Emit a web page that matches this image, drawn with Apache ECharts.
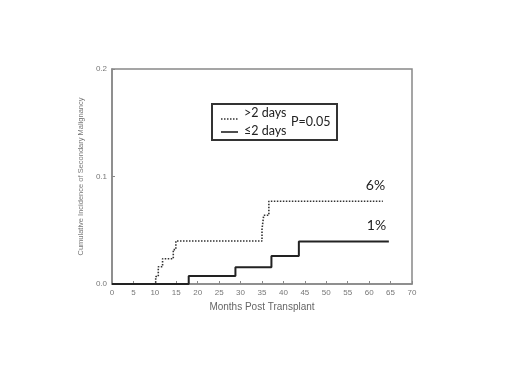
<!DOCTYPE html>
<html>
<head>
<meta charset="utf-8">
<script src="https://cdn.jsdelivr.net/npm/echarts@6/dist/echarts.min.js"></script>
<style>
  html, body { margin: 0; padding: 0; background: #fff; }
  #chart { width: 520px; height: 390px; }
</style>
</head>
<body>
<div id="chart"></div>
<script>
// cumulative incidence, step curves
const longMonths = [0, 10.2, 10.8, 11.8, 14.3, 14.9, 35.0, 35.4, 36.6, 63.2]
const longInc = [0, 0.007, 0.016, 0.0235, 0.032, 0.040, 0.051, 0.064, 0.077, 0.077]
const shortMonths = [0, 17.9, 28.8, 37.2, 43.6, 64.6]
const shortInc = [0, 0.0075, 0.0155, 0.026, 0.0395, 0.0395]
const seriesNames = ['>2 days', '≤2 days']
const endLabels = ['6%', '1%']
const pText = 'P=0.05'

const chart = echarts.init(document.getElementById('chart'))

const toPairs = (xs, ys) => xs.map((x, i) => [x, ys[i]])

const axisText = { color: '#777', fontSize: 8, fontFamily: 'Liberation Sans' }
const legendFont = '12.5px Lato'

chart.setOption({
  backgroundColor: '#fff',
  animation: false,
  grid: {
    left: 112, top: 69, right: 108, bottom: 106,
    show: true, borderColor: '#888', borderWidth: 1.5
  },
  xAxis: {
    type: 'value', min: 0, max: 70, interval: 5,
    name: 'Months Post Transplant', nameLocation: 'middle', nameGap: 15,
    nameTextStyle: { color: '#666', fontSize: 10, fontFamily: 'Liberation Sans' },
    axisLine: { show: true, lineStyle: { color: '#888', width: 1.5 } },
    axisTick: { show: true, inside: true, length: 3, lineStyle: { color: '#888' } },
    axisLabel: { ...axisText, margin: 5 },
    splitLine: { show: false }
  },
  yAxis: {
    type: 'value', min: 0, max: 0.2, interval: 0.1,
    name: 'Cumulative Incidence of Secondary Malignancy', nameLocation: 'middle', nameGap: 19,
    nameTextStyle: { color: '#777', fontSize: 7.5, fontFamily: 'Liberation Sans' },
    axisLine: { show: true, lineStyle: { color: '#888', width: 1.5 } },
    axisTick: { show: true, inside: true, length: 3, lineStyle: { color: '#888' } },
    axisLabel: { ...axisText, margin: 5, formatter: v => v.toFixed(1) },
    splitLine: { show: false }
  },
  graphic: [
    {
      type: 'rect', shape: { x: 212, y: 104, width: 125, height: 36 },
      style: { fill: '#fff', stroke: '#333', lineWidth: 2 }
    },
    {
      type: 'line', shape: { x1: 221, y1: 119, x2: 238, y2: 119 },
      style: { stroke: '#333', lineWidth: 1.5, lineDash: [1.5, 1.5] }
    },
    {
      type: 'text', x: 244, y: 113,
      style: { text: seriesNames[0], fill: '#222', font: legendFont, verticalAlign: 'middle' }
    },
    {
      type: 'line', shape: { x1: 221, y1: 132, x2: 238, y2: 132 },
      style: { stroke: '#222', lineWidth: 1.6 }
    },
    {
      type: 'text', x: 244, y: 131,
      style: { text: seriesNames[1], fill: '#222', font: legendFont, verticalAlign: 'middle' }
    },
    {
      type: 'text', x: 291, y: 122,
      style: { text: pText, fill: '#222', font: legendFont, verticalAlign: 'middle' }
    }
  ],
  series: [
    {
      name: seriesNames[0], type: 'line', step: 'end', symbol: 'none',
      data: toPairs(longMonths, longInc),
      lineStyle: { color: '#333', width: 1.6, type: [1.5, 1.5] },
      endLabel: {
        show: true, formatter: endLabels[0], offset: [-25, -16],
        color: '#222', fontSize: 14, fontFamily: 'Lato'
      }
    },
    {
      name: seriesNames[1], type: 'line', step: 'end', symbol: 'none',
      data: toPairs(shortMonths, shortInc),
      lineStyle: { color: '#222', width: 2 },
      endLabel: {
        show: true, formatter: endLabels[1], offset: [-30, -16],
        color: '#222', fontSize: 14, fontFamily: 'Lato'
      }
    }
  ]
})
</script>
</body>
</html>
